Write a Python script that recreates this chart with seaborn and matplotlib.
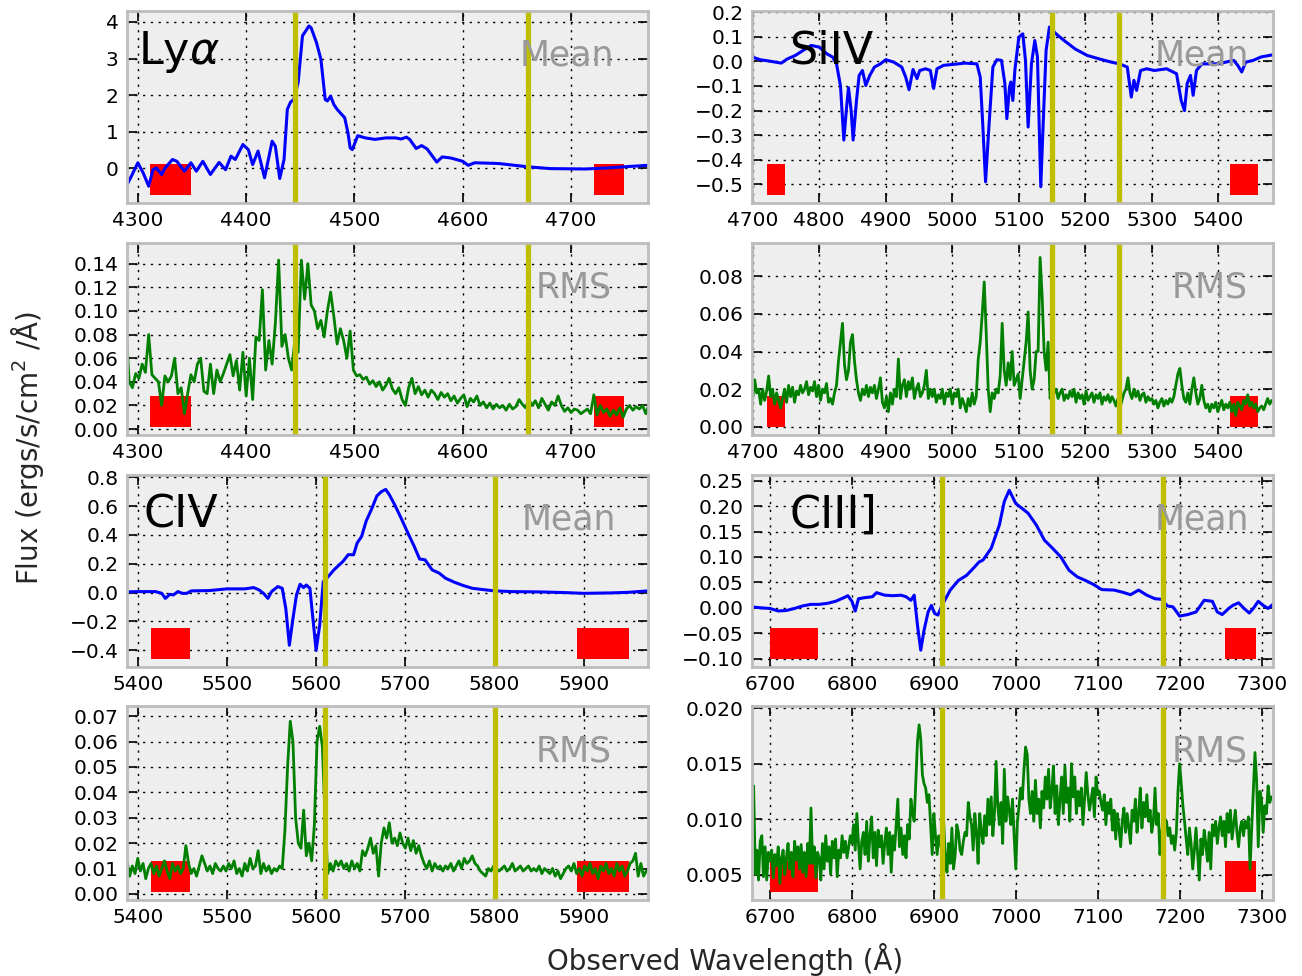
import numpy as np
import matplotlib
matplotlib.use("Agg")
import matplotlib.pyplot as plt
from matplotlib.ticker import MultipleLocator
import seaborn as sns

# ---------------- Ly-alpha ----------------
lya_mean_wave = [4290, 4294, 4300, 4305, 4310, 4314, 4317, 4322, 4325, 4332, 4336, 4343,
                 4349, 4354, 4360, 4367, 4375, 4381, 4386, 4390, 4397, 4402, 4406, 4411,
                 4417, 4424, 4427, 4431, 4435, 4438, 4441, 4444, 4448, 4452, 4458, 4460,
                 4465, 4469, 4473, 4475, 4478, 4481, 4484, 4491, 4494, 4496, 4498, 4503,
                 4510, 4519, 4529, 4538, 4543, 4548, 4551, 4557, 4562, 4567, 4571, 4576,
                 4581, 4589, 4600, 4605, 4611, 4633, 4660, 4681, 4713, 4735, 4754, 4771]
lya_mean_flux = [-0.45, -0.22, 0.15, -0.13, -0.49, -0.04, 0.01, -0.17, 0.00, 0.24, 0.19, -0.08,
                 0.15, -0.08, 0.19, -0.17, 0.16, -0.04, 0.33, 0.24, 0.65, 0.51, 0.10, 0.47,
                 -0.26, 0.74, 0.60, -0.28, 0.24, 1.61, 1.81, 1.88, 2.34, 3.62, 3.89, 3.84,
                 3.43, 2.98, 1.88, 1.84, 1.97, 1.74, 1.61, 1.38, 0.97, 0.56, 0.51, 0.89,
                 0.83, 0.79, 0.83, 0.83, 0.80, 0.85, 0.79, 0.54, 0.62, 0.53, 0.37, 0.17,
                 0.31, 0.28, 0.19, 0.08, 0.15, 0.13, 0.04, -0.01, -0.02, 0.01, 0.05, 0.08]
lya_rms_start, lya_rms_step = 4289, 3
lya_rms_flux = [0.090, 0.040, 0.035, 0.047, 0.043, 0.055, 0.048, 0.080, 0.046, 0.043,
                0.040, 0.020, 0.045, 0.040, 0.045, 0.060, 0.030, 0.035, 0.013, 0.030,
                0.046, 0.040, 0.055, 0.060, 0.032, 0.030, 0.055, 0.030, 0.050, 0.040,
                0.047, 0.055, 0.063, 0.045, 0.058, 0.033, 0.065, 0.028, 0.060, 0.025,
                0.078, 0.075, 0.118, 0.050, 0.075, 0.055, 0.090, 0.143, 0.070, 0.080,
                0.060, 0.050, 0.075, 0.065, 0.143, 0.110, 0.140, 0.105, 0.100, 0.085,
                0.092, 0.078, 0.100, 0.116, 0.095, 0.072, 0.085, 0.075, 0.060, 0.083,
                0.050, 0.045, 0.046, 0.042, 0.044, 0.038, 0.041, 0.036, 0.040, 0.033,
                0.037, 0.043, 0.034, 0.030, 0.035, 0.025, 0.020, 0.035, 0.043, 0.030,
                0.036, 0.029, 0.033, 0.027, 0.033, 0.030, 0.025, 0.031, 0.027, 0.030,
                0.024, 0.028, 0.022, 0.026, 0.029, 0.019, 0.026, 0.023, 0.028, 0.020,
                0.023, 0.018, 0.022, 0.017, 0.021, 0.018, 0.020, 0.016, 0.021, 0.017,
                0.019, 0.025, 0.021, 0.018, 0.025, 0.020, 0.024, 0.018, 0.026, 0.021,
                0.016, 0.023, 0.020, 0.028, 0.020, 0.015, 0.018, 0.014, 0.017, 0.016,
                0.013, 0.015, 0.017, 0.013, 0.029, 0.012, 0.020, 0.014, 0.017, 0.011,
                0.016, 0.012, 0.018, 0.010, 0.017, 0.020, 0.016, 0.019, 0.017, 0.020,
                0.013, 0.021]
lya_lines = [4445, 4660]
lya_windows = [(4311, 4349), (4721, 4749)]

# ---------------- Si IV ----------------
siiv_mean_wave = [4699, 4711, 4728, 4743, 4752, 4764, 4776, 4788, 4800, 4812, 4820, 4826,
                  4832, 4837, 4841, 4844, 4848, 4851, 4856, 4860, 4865, 4870, 4876, 4883,
                  4892, 4900, 4912, 4924, 4930, 4935, 4941, 4947, 4951, 4960, 4967, 4972,
                  4977, 4987, 5002, 5019, 5037, 5042, 5046, 5050, 5055, 5061, 5067, 5074,
                  5079, 5082, 5086, 5088, 5091, 5094, 5100, 5106, 5110, 5114, 5119, 5124,
                  5128, 5133, 5136, 5141, 5146, 5156, 5168, 5185, 5203, 5221, 5239, 5251,
                  5263, 5269, 5273, 5277, 5283, 5292, 5304, 5322, 5337, 5344, 5349, 5353,
                  5358, 5362, 5367, 5375, 5399, 5423, 5429, 5435, 5441, 5452, 5464, 5482]
siiv_mean_flux = [0.018, 0.007, 0.000, -0.007, 0.010, 0.024, 0.045, 0.065, 0.058, 0.030, 0.018, -0.010,
                  -0.100, -0.320, -0.190, -0.107, -0.200, -0.320, -0.160, -0.057, -0.037, -0.098, -0.057, -0.023,
                  -0.010, 0.007, -0.003, -0.023, -0.064, -0.115, -0.033, -0.070, -0.037, -0.030, -0.037, -0.110,
                  -0.030, -0.016, -0.012, -0.007, -0.010, -0.064, -0.267, -0.490, -0.267, -0.023, 0.007, 0.004,
                  -0.090, -0.233, -0.104, -0.084, -0.159, -0.037, 0.099, 0.112, 0.004, -0.267, -0.010, 0.085,
                  0.018, -0.510, -0.294, 0.045, 0.140, 0.112, 0.085, 0.050, 0.024, 0.010, -0.003, -0.010,
                  -0.023, -0.145, -0.077, -0.118, -0.037, -0.030, -0.037, -0.030, -0.050, -0.159, -0.200, -0.090,
                  -0.057, -0.138, -0.037, -0.010, -0.010, 0.004, -0.016, -0.043, -0.003, 0.004, 0.018, 0.027]
siiv_rms_start, siiv_rms_step = 4700, 3
siiv_rms_flux = [0.015, 0.025, 0.018, 0.020, 0.012, 0.020, 0.014, 0.019, 0.027, 0.016,
                 0.020, 0.012, 0.018, 0.014, 0.010, 0.015, 0.020, 0.013, 0.022, 0.016,
                 0.021, 0.013, 0.019, 0.017, 0.022, 0.018, 0.020, 0.024, 0.017, 0.021,
                 0.019, 0.024, 0.016, 0.022, 0.014, 0.020, 0.018, 0.023, 0.013, 0.015,
                 0.012, 0.018, 0.022, 0.035, 0.045, 0.055, 0.033, 0.025, 0.030, 0.045,
                 0.049, 0.035, 0.025, 0.018, 0.014, 0.020, 0.017, 0.022, 0.016, 0.021,
                 0.018, 0.022, 0.015, 0.020, 0.026, 0.013, 0.010, 0.016, 0.008, 0.018,
                 0.012, 0.020, 0.016, 0.036, 0.015, 0.022, 0.025, 0.016, 0.024, 0.020,
                 0.026, 0.015, 0.020, 0.023, 0.016, 0.018, 0.022, 0.030, 0.015, 0.020,
                 0.016, 0.020, 0.013, 0.017, 0.015, 0.020, 0.012, 0.018, 0.016, 0.020,
                 0.012, 0.018, 0.016, 0.020, 0.010, 0.015, 0.012, 0.008, 0.015, 0.011,
                 0.018, 0.012, 0.016, 0.036, 0.045, 0.060, 0.077, 0.050, 0.020, 0.008,
                 0.018, 0.015, 0.020, 0.018, 0.027, 0.055, 0.030, 0.022, 0.034, 0.025,
                 0.040, 0.022, 0.025, 0.028, 0.015, 0.025, 0.035, 0.045, 0.061, 0.030,
                 0.020, 0.025, 0.040, 0.040, 0.090, 0.070, 0.040, 0.030, 0.045, 0.015,
                 0.022, 0.018, 0.020, 0.015, 0.018, 0.020, 0.014, 0.017, 0.015, 0.019,
                 0.016, 0.020, 0.013, 0.018, 0.015, 0.017, 0.012, 0.019, 0.014, 0.016,
                 0.018, 0.013, 0.017, 0.015, 0.018, 0.012, 0.016, 0.014, 0.017, 0.013,
                 0.016, 0.014, 0.011, 0.015, 0.010, 0.014, 0.018, 0.020, 0.026, 0.018,
                 0.015, 0.020, 0.016, 0.019, 0.014, 0.017, 0.018, 0.013, 0.016, 0.014,
                 0.015, 0.012, 0.014, 0.010, 0.013, 0.015, 0.011, 0.014, 0.012, 0.015,
                 0.013, 0.016, 0.022, 0.028, 0.031, 0.022, 0.015, 0.013, 0.018, 0.012,
                 0.020, 0.026, 0.018, 0.012, 0.015, 0.022, 0.014, 0.010, 0.012, 0.008,
                 0.012, 0.010, 0.013, 0.008, 0.011, 0.014, 0.009, 0.012, 0.010, 0.013,
                 0.008, 0.012, 0.006, 0.013, 0.011, 0.009, 0.014, 0.012, 0.017, 0.011,
                 0.013, 0.010, 0.012, 0.008, 0.010, 0.011, 0.009, 0.012, 0.015, 0.012,
                 0.014]
siiv_lines = [5150, 5250]
siiv_windows = [(4721, 4749), (5418, 5460)]

# ---------------- C IV ----------------
civ_mean_wave = [5388, 5400, 5420, 5427, 5431, 5436, 5440, 5445, 5450, 5455, 5460, 5480,
                 5500, 5520, 5530, 5536, 5541, 5546, 5550, 5557, 5562, 5566, 5570, 5574,
                 5578, 5582, 5586, 5589, 5593, 5596, 5600, 5604, 5608, 5612, 5620, 5630,
                 5636, 5642, 5646, 5651, 5656, 5662, 5668, 5673, 5678, 5682, 5688, 5695,
                 5702, 5710, 5716, 5722, 5730, 5738, 5745, 5755, 5765, 5775, 5790, 5800,
                 5820, 5850, 5880, 5900, 5930, 5950, 5972]
civ_mean_flux = [0.005, 0.007, 0.007, -0.005, -0.040, -0.012, -0.016, 0.007, -0.005, -0.005, 0.012, 0.014,
                 0.026, 0.026, 0.035, 0.019, -0.005, -0.040, 0.007, 0.042, 0.030, -0.110, -0.365, -0.180,
                 -0.016, 0.058, 0.035, 0.053, 0.030, -0.156, -0.400, -0.225, 0.077, 0.100, 0.158, 0.216,
                 0.263, 0.263, 0.344, 0.390, 0.495, 0.577, 0.670, 0.700, 0.716, 0.680, 0.610, 0.520,
                 0.425, 0.320, 0.233, 0.228, 0.158, 0.135, 0.100, 0.072, 0.049, 0.030, 0.019, 0.012,
                 0.007, 0.005, 0.000, -0.005, -0.002, 0.002, 0.012]
civ_rms_start, civ_rms_step = 5388, 3
civ_rms_flux = [0.013, 0.007, 0.011, 0.008, 0.014, 0.009, 0.012, 0.006, 0.010, 0.012,
                0.008, 0.011, 0.007, 0.010, 0.013, 0.009, 0.006, 0.012, 0.009, 0.011,
                0.008, 0.010, 0.019, 0.012, 0.008, 0.010, 0.007, 0.011, 0.015, 0.012,
                0.009, 0.011, 0.008, 0.012, 0.010, 0.009, 0.011, 0.009, 0.012, 0.010,
                0.013, 0.008, 0.010, 0.007, 0.012, 0.009, 0.014, 0.010, 0.011, 0.017,
                0.008, 0.012, 0.009, 0.011, 0.008, 0.010, 0.009, 0.011, 0.010, 0.025,
                0.050, 0.068, 0.060, 0.030, 0.020, 0.018, 0.033, 0.015, 0.020, 0.013,
                0.027, 0.060, 0.066, 0.058, 0.030, 0.008, 0.012, 0.009, 0.013, 0.011,
                0.013, 0.010, 0.012, 0.009, 0.013, 0.010, 0.012, 0.009, 0.017, 0.015,
                0.018, 0.022, 0.016, 0.019, 0.007, 0.020, 0.026, 0.022, 0.028, 0.020,
                0.022, 0.019, 0.024, 0.020, 0.018, 0.022, 0.017, 0.021, 0.016, 0.019,
                0.015, 0.012, 0.010, 0.013, 0.009, 0.012, 0.010, 0.011, 0.009, 0.011,
                0.010, 0.012, 0.009, 0.011, 0.013, 0.010, 0.014, 0.012, 0.013, 0.015,
                0.012, 0.011, 0.009, 0.008, 0.007, 0.010, 0.009, 0.011, 0.010, 0.009,
                0.010, 0.011, 0.009, 0.010, 0.012, 0.009, 0.010, 0.011, 0.009, 0.010,
                0.011, 0.009, 0.010, 0.009, 0.011, 0.008, 0.010, 0.009, 0.008, 0.010,
                0.007, 0.009, 0.006, 0.008, 0.010, 0.011, 0.009, 0.012, 0.008, 0.010,
                0.007, 0.011, 0.009, 0.012, 0.008, 0.010, 0.006, 0.011, 0.009, 0.012,
                0.008, 0.010, 0.007, 0.012, 0.009, 0.011, 0.007, 0.009, 0.012, 0.013,
                0.016, 0.007, 0.012, 0.007, 0.009]
civ_lines = [5610, 5800]
civ_windows = [(5415, 5459), (5892, 5951)]

# ---------------- C III] ----------------
ciii_mean_wave = [6678, 6690, 6700, 6710, 6720, 6730, 6740, 6750, 6760, 6770, 6780, 6790,
                  6795, 6800, 6804, 6808, 6815, 6825, 6830, 6840, 6850, 6860, 6866, 6872,
                  6876, 6880, 6884, 6888, 6893, 6897, 6901, 6905, 6910, 6920, 6930, 6940,
                  6950, 6955, 6960, 6970, 6980, 6986, 6992, 6996, 7000, 7008, 7015, 7025,
                  7035, 7045, 7055, 7065, 7075, 7085, 7095, 7105, 7120, 7130, 7140, 7150,
                  7160, 7170, 7178, 7185, 7192, 7200, 7210, 7220, 7230, 7240, 7246, 7252,
                  7260, 7265, 7272, 7278, 7285, 7290, 7296, 7302, 7308, 7314]
ciii_mean_flux = [0.002, 0.000, -0.001, -0.006, -0.005, -0.001, 0.004, 0.007, 0.007, 0.009, 0.013, 0.020,
                  0.024, 0.013, -0.006, 0.018, 0.020, 0.022, 0.030, 0.025, 0.024, 0.025, 0.022, 0.015,
                  0.025, -0.034, -0.083, -0.044, -0.008, 0.005, -0.011, -0.014, 0.005, 0.035, 0.054, 0.064,
                  0.081, 0.090, 0.094, 0.117, 0.163, 0.209, 0.231, 0.218, 0.205, 0.195, 0.186, 0.163,
                  0.133, 0.117, 0.100, 0.074, 0.061, 0.054, 0.046, 0.036, 0.035, 0.031, 0.026, 0.035,
                  0.025, 0.018, 0.017, 0.004, 0.002, -0.016, -0.013, -0.008, 0.015, 0.013, -0.008, -0.013,
                  -0.001, 0.005, 0.010, 0.000, -0.010, -0.001, 0.013, 0.005, -0.001, 0.007]
ciii_rms_start, ciii_rms_step = 6680, 2
ciii_rms_flux = [0.0130, 0.0050, 0.0072, 0.0045, 0.0080, 0.0085, 0.0048, 0.0075, 0.0045, 0.0070,
                 0.0062, 0.0072, 0.0047, 0.0068, 0.0058, 0.0075, 0.0042, 0.0065, 0.0072, 0.0050,
                 0.0065, 0.0078, 0.0055, 0.0070, 0.0048, 0.0080, 0.0063, 0.0075, 0.0055, 0.0077,
                 0.0052, 0.0070, 0.0048, 0.0078, 0.0060, 0.0110, 0.0060, 0.0075, 0.0047, 0.0070,
                 0.0065, 0.0045, 0.0078, 0.0055, 0.0085, 0.0062, 0.0075, 0.0050, 0.0080, 0.0065,
                 0.0082, 0.0048, 0.0072, 0.0065, 0.0085, 0.0070, 0.0080, 0.0065, 0.0075, 0.0085,
                 0.0078, 0.0095, 0.0072, 0.0105, 0.0078, 0.0055, 0.0080, 0.0088, 0.0068, 0.0098,
                 0.0062, 0.0085, 0.0102, 0.0065, 0.0088, 0.0058, 0.0090, 0.0075, 0.0085, 0.0060,
                 0.0078, 0.0092, 0.0068, 0.0088, 0.0052, 0.0085, 0.0072, 0.0095, 0.0118, 0.0075,
                 0.0092, 0.0068, 0.0085, 0.0065, 0.0095, 0.0082, 0.0118, 0.0105, 0.0098, 0.0135,
                 0.0170, 0.0185, 0.0172, 0.0140, 0.0132, 0.0128, 0.0115, 0.0122, 0.0095, 0.0068,
                 0.0105, 0.0085, 0.0068, 0.0085, 0.0078, 0.0070, 0.0098, 0.0065, 0.0052, 0.0078,
                 0.0060, 0.0092, 0.0055, 0.0068, 0.0095, 0.0088, 0.0072, 0.0068, 0.0080, 0.0088,
                 0.0085, 0.0115, 0.0102, 0.0095, 0.0072, 0.0105, 0.0088, 0.0060, 0.0105, 0.0088,
                 0.0078, 0.0103, 0.0085, 0.0118, 0.0095, 0.0120, 0.0085, 0.0105, 0.0152, 0.0112,
                 0.0095, 0.0115, 0.0078, 0.0145, 0.0098, 0.0120, 0.0108, 0.0095, 0.0118, 0.0085,
                 0.0055, 0.0098, 0.0112, 0.0128, 0.0118, 0.0145, 0.0165, 0.0158, 0.0118, 0.0105,
                 0.0125, 0.0098, 0.0135, 0.0105, 0.0118, 0.0092, 0.0125, 0.0110, 0.0138, 0.0118,
                 0.0145, 0.0110, 0.0125, 0.0148, 0.0105, 0.0130, 0.0095, 0.0118, 0.0138, 0.0105,
                 0.0148, 0.0115, 0.0128, 0.0098, 0.0150, 0.0120, 0.0138, 0.0105, 0.0125, 0.0112,
                 0.0128, 0.0095, 0.0118, 0.0142, 0.0122, 0.0108, 0.0118, 0.0128, 0.0102, 0.0138,
                 0.0122, 0.0125, 0.0115, 0.0108, 0.0122, 0.0095, 0.0115, 0.0105, 0.0118, 0.0090,
                 0.0108, 0.0082, 0.0105, 0.0092, 0.0075, 0.0098, 0.0110, 0.0088, 0.0105, 0.0092,
                 0.0078, 0.0108, 0.0098, 0.0118, 0.0088, 0.0105, 0.0128, 0.0092, 0.0115, 0.0102,
                 0.0122, 0.0098, 0.0108, 0.0088, 0.0098, 0.0128, 0.0095, 0.0105, 0.0068, 0.0088,
                 0.0098, 0.0092, 0.0098, 0.0085, 0.0092, 0.0078, 0.0085, 0.0072, 0.0088, 0.0125,
                 0.0150, 0.0132, 0.0112, 0.0098, 0.0082, 0.0068, 0.0092, 0.0078, 0.0055, 0.0072,
                 0.0092, 0.0068, 0.0045, 0.0082, 0.0068, 0.0090, 0.0078, 0.0062, 0.0088, 0.0055,
                 0.0095, 0.0085, 0.0098, 0.0078, 0.0092, 0.0102, 0.0085, 0.0098, 0.0075, 0.0105,
                 0.0088, 0.0108, 0.0082, 0.0095, 0.0108, 0.0088, 0.0075, 0.0092, 0.0098, 0.0085,
                 0.0098, 0.0092, 0.0102, 0.0055, 0.0092, 0.0125, 0.0160, 0.0135, 0.0075, 0.0125,
                 0.0118, 0.0088, 0.0112, 0.0105, 0.0130, 0.0115, 0.0120]
ciii_lines = [6910, 7180]
ciii_windows = [(6700, 6759), (7255, 7293)]


def rms_wave(start, step, flux):
    return start + step * np.arange(len(flux))


GRID_DASH = (0, (1.6, 4.0))

sns.set_style("ticks", rc={
    "axes.facecolor": "#EEEEEE",
    "axes.edgecolor": "#BCBCBC",
    "axes.linewidth": 2.0,
    "axes.grid": True,
    "grid.color": "black",
    "grid.linewidth": 1.0,
    "xtick.direction": "in",
    "ytick.direction": "in",
    "xtick.top": True,
    "ytick.right": True,
    "xtick.color": "black",
    "ytick.color": "black",
    "xtick.major.size": 7,
    "ytick.major.size": 7,
    "xtick.major.width": 1.2,
    "ytick.major.width": 1.2,
})
plt.rcParams["font.family"] = ["DejaVu Sans"]
plt.rcParams["mathtext.fontset"] = "dejavusans"
plt.rcParams["xtick.labelsize"] = 14.5
plt.rcParams["ytick.labelsize"] = 14.5

W, H = 1302, 976
fig = plt.figure(figsize=(W / 100, H / 100), dpi=100)


def add_axes(px_left, px_top, px_right, px_bottom):
    return fig.add_axes([px_left / W, 1 - px_bottom / H,
                         (px_right - px_left) / W, (px_bottom - px_top) / H])


col_x = [(127, 648), (752, 1273)]
row_y = [(11, 203), (243, 435), (475, 667), (706, 900)]

panels = [
    # (col, row, wave, flux, colour, xlim, ylim, ystep, xstep, lines, windows, name, tag, name_x, tag_x)
    (0, 0, lya_mean_wave, lya_mean_flux, "#0000FF", (4290, 4771), (-0.95, 4.3), 1, 100,
     lya_lines, lya_windows, r"Ly$\alpha$", "Mean", 0.022, 0.935),
    (0, 1, rms_wave(lya_rms_start, lya_rms_step, lya_rms_flux), lya_rms_flux, "#008000",
     (4290, 4771), (-0.005, 0.1575), 0.02, 100, lya_lines, lya_windows, None, "RMS", 0.0, 0.93),
    (1, 0, siiv_mean_wave, siiv_mean_flux, "#0000FF", (4699, 5482), (-0.576, 0.205), 0.1, 100,
     siiv_lines, siiv_windows, "SiIV", "Mean", 0.072, 0.955),
    (1, 1, rms_wave(siiv_rms_start, siiv_rms_step, siiv_rms_flux), siiv_rms_flux, "#008000",
     (4699, 5482), (-0.0044, 0.0977), 0.02, 100, siiv_lines, siiv_windows, None, "RMS", 0.0, 0.951),
    (0, 2, civ_mean_wave, civ_mean_flux, "#0000FF", (5388, 5972), (-0.516, 0.816), 0.2, 100,
     civ_lines, civ_windows, "CIV", "Mean", 0.031, 0.938),
    (0, 3, rms_wave(civ_rms_start, civ_rms_step, civ_rms_flux), civ_rms_flux, "#008000",
     (5388, 5972), (-0.0024, 0.074), 0.01, 100, civ_lines, civ_windows, None, "RMS", 0.0, 0.93),
    (1, 2, ciii_mean_wave, ciii_mean_flux, "#0000FF", (6678, 7314), (-0.116, 0.261), 0.05, 100,
     ciii_lines, ciii_windows, "CIII]", "Mean", 0.072, 0.955),
    (1, 3, rms_wave(ciii_rms_start, ciii_rms_step, ciii_rms_flux), ciii_rms_flux, "#008000",
     (6678, 7314), (0.0027, 0.0202), 0.005, 100, ciii_lines, ciii_windows, None, "RMS", 0.0, 0.951),
]

for (col, row, wave, flux, colour, xlim, ylim, ystep, xstep,
     lines, windows, name, tag, name_x, tag_x) in panels:
    x0, x1 = col_x[col]
    y0, y1 = row_y[row]
    ax = add_axes(x0, y0, x1, y1)
    is_mean = colour == "#0000FF"

    # continuum windows
    for lo, hi in windows:
        ax.axvspan(lo, hi, ymin=0.043, ymax=0.203, color="#FF0000", lw=0, zorder=1.5)

    sns.lineplot(x=np.asarray(wave, dtype=float), y=np.asarray(flux, dtype=float), ax=ax,
                 color=colour, lw=2.2 if is_mean else 2.0, estimator=None, sort=False,
                 zorder=2)

    # line integration limits
    for lam in lines:
        ax.axvline(lam, color="#BFBF00", lw=3.8, zorder=3)

    ax.set_xlim(*xlim)
    ax.set_ylim(*ylim)
    ax.xaxis.set_major_locator(MultipleLocator(xstep))
    ax.yaxis.set_major_locator(MultipleLocator(ystep))
    ax.grid(True, color="black", linestyle=GRID_DASH, linewidth=1.0)
    ax.set_axisbelow(True)
    ax.set_xlabel("")
    ax.set_ylabel("")
    for sp in ax.spines.values():
        sp.set_color("#BCBCBC")
        sp.set_linewidth(2.0)
        sp.set_zorder(4)
    ax.tick_params(which="both", direction="in", top=True, right=True, length=7,
                   width=1.2, color="black", pad=6)

    if name is not None:
        ax.text(name_x, 0.725, name, transform=ax.transAxes, fontsize=32,
                color="black", ha="left", va="baseline", zorder=5)
    ax.text(tag_x, 0.715, tag, transform=ax.transAxes, fontsize=25,
            color="#999999", ha="right", va="baseline", zorder=5)

fig.text(725 / W, 1 - 960 / H, "Observed Wavelength (Å)", fontsize=20,
         ha="center", va="center")
fig.text(28 / W, 1 - 448 / H, "Flux (ergs/s/cm$^2$ /Å)", fontsize=20,
         ha="center", va="center", rotation=90)

fig.savefig("out.png", dpi=100, facecolor="white")
